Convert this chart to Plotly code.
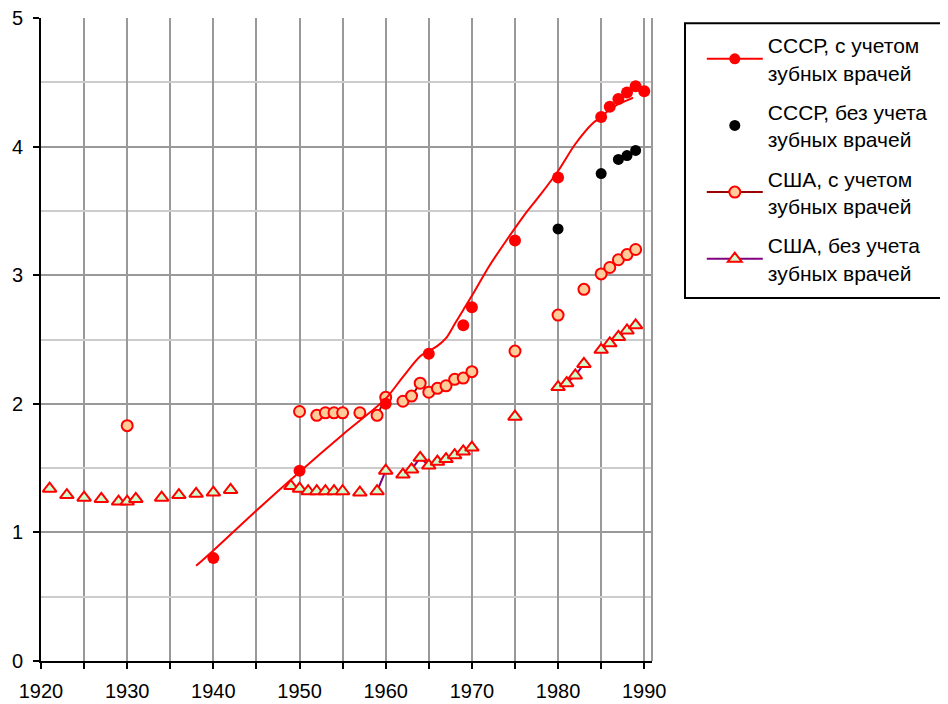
"""Число врачей на 1000 жителей: СССР и США, 1920-1990."""
import plotly.graph_objects as go

# СССР, с учетом зубных врачей (точки)
ussr_years = [1940, 1950, 1960, 1965, 1969, 1970, 1975, 1980, 1985, 1986, 1987, 1988, 1989, 1990]
ussr_values = [0.80, 1.48, 2.00, 2.39, 2.61, 2.75, 3.27, 3.76, 4.23, 4.31, 4.37, 4.42, 4.47, 4.43]

# СССР, сглаженная линия
ussr_line_years = [1938, 1940, 1945, 1950, 1955, 1960, 1962, 1964, 1965, 1966, 1967, 1968,
                   1969, 1970, 1972, 1974, 1976, 1978, 1980, 1982, 1984, 1985, 1986, 1987,
                   1988, 1988.7]
ussr_line_values = [0.74, 0.86, 1.17, 1.47, 1.76, 2.04, 2.21, 2.37, 2.41, 2.45, 2.51, 2.62,
                    2.73, 2.84, 3.07, 3.27, 3.46, 3.63, 3.81, 4.02, 4.18, 4.23, 4.29, 4.33,
                    4.36, 4.38]

# СССР, без учета зубных врачей
ussr_nodent_years = [1980, 1985, 1987, 1988, 1989]
ussr_nodent_values = [3.36, 3.79, 3.90, 3.93, 3.97]

# США, с учетом зубных врачей
usa_years = [1930, 1950, 1952, 1953, 1954, 1955, 1957, 1959, 1960, 1962, 1963, 1964, 1965,
             1966, 1967, 1968, 1969, 1970, 1975, 1980, 1983, 1985, 1986, 1987, 1988, 1989]
usa_values = [1.83, 1.94, 1.91, 1.93, 1.93, 1.93, 1.93, 1.91, 2.05, 2.02, 2.06, 2.16, 2.09,
              2.12, 2.14, 2.19, 2.20, 2.25, 2.41, 2.69, 2.89, 3.01, 3.06, 3.12, 3.16, 3.20]

# США, без учета зубных врачей
usa_nodent_years = [1921, 1923, 1925, 1927, 1929, 1930, 1931, 1934, 1936, 1938, 1940, 1942,
                    1949, 1950, 1951, 1952, 1953, 1954, 1955, 1957, 1959, 1960, 1962, 1963,
                    1964, 1965, 1966, 1967, 1968, 1969, 1970, 1975, 1980, 1981, 1982, 1983,
                    1985, 1986, 1987, 1988, 1989]
usa_nodent_values = [1.34, 1.29, 1.27, 1.26, 1.24, 1.24, 1.26, 1.27, 1.29, 1.30, 1.31, 1.33,
                     1.36, 1.34, 1.32, 1.32, 1.32, 1.32, 1.32, 1.31, 1.32, 1.48, 1.45, 1.49,
                     1.58, 1.52, 1.55, 1.57, 1.60, 1.63, 1.66, 1.90, 2.13, 2.16, 2.22, 2.31,
                     2.42, 2.47, 2.52, 2.57, 2.61]

x_ticks = [1920, 1930, 1940, 1950, 1960, 1970, 1980, 1990]

FONT = "Liberation Sans, Arial, sans-serif"
LABEL_TAIL = "<br>зубных врачей"


def with_gaps(years, values):
    """Excel-style line: only consecutive years are joined."""
    xs, ys = [], []
    for i, (yr, v) in enumerate(zip(years, values)):
        if i and yr - years[i - 1] > 1:
            xs.append(None)
            ys.append(None)
        xs.append(yr)
        ys.append(v)
    return xs, ys


fig = go.Figure()

usa_nd_x, usa_nd_y = with_gaps(usa_nodent_years, usa_nodent_values)
fig.add_trace(go.Scatter(
    x=usa_nd_x, y=usa_nd_y, mode="lines+markers",
    name="США, без учета" + LABEL_TAIL, legendrank=4, legendgroup="g4",
    line={"color": "#800080", "width": 2},
    marker={"symbol": "triangle-up", "size": 12, "color": "#ccffcc",
            "line": {"color": "#ff0000", "width": 2}},
))

usa_x, usa_y = with_gaps(usa_years, usa_values)
fig.add_trace(go.Scatter(
    x=usa_x, y=usa_y, mode="lines+markers",
    name="США, с учетом" + LABEL_TAIL, legendrank=3, legendgroup="g3",
    line={"color": "#990000", "width": 2},
    marker={"symbol": "circle", "size": 11, "color": "#ffcc99",
            "line": {"color": "#ff0000", "width": 2}},
))

fig.add_trace(go.Scatter(
    x=ussr_nodent_years, y=ussr_nodent_values, mode="markers",
    name="СССР, без учета" + LABEL_TAIL, legendrank=2, legendgroup="g2",
    marker={"symbol": "circle", "size": 11, "color": "black"},
))

fig.add_trace(go.Scatter(
    x=ussr_line_years, y=ussr_line_values, mode="lines",
    line={"color": "#ff0000", "width": 2, "shape": "spline", "smoothing": 0.8},
    legendgroup="g1", showlegend=False,
))

fig.add_trace(go.Scatter(
    x=ussr_years, y=ussr_values, mode="markers",
    marker={"symbol": "circle", "size": 12, "color": "#ff0000"},
    legendgroup="g1", showlegend=False,
))

# legend-only entry: line with marker
fig.add_trace(go.Scatter(
    x=[None], y=[None], mode="lines+markers",
    name="СССР, с учетом" + LABEL_TAIL, legendrank=1, legendgroup="g1",
    line={"color": "#ff0000", "width": 2},
    marker={"symbol": "circle", "size": 11, "color": "#ff0000"},
))

# page body has an 8px margin, so the figure is 8px smaller than the window
fig.update_layout(
    width=940,
    height=696,
    margin={"l": 33, "r": 296, "t": 10, "b": 43},
    paper_bgcolor="white",
    plot_bgcolor="white",
    font={"family": FONT, "size": 20, "color": "black"},
    showlegend=True,
    legend={
        "x": 1.0815, "y": 0.989, "xanchor": "left", "yanchor": "top",
        "borderwidth": 0, "bgcolor": "rgba(0,0,0,0)",
        "font": {"family": FONT, "size": 21, "color": "black"},
        "tracegroupgap": 9,
        "itemwidth": 56,
        "traceorder": "grouped",
    },
)

fig.update_xaxes(
    range=[1920, 1990.9],
    tickvals=x_ticks,
    automargin=False,
    showgrid=True, gridcolor="#999999", gridwidth=2,
    minor={"dtick": 5, "tick0": 1920, "showgrid": True, "gridcolor": "#999999",
           "gridwidth": 2, "ticks": "outside", "ticklen": 6, "tickcolor": "black",
           "tickwidth": 2},
    ticks="outside", ticklen=6, tickwidth=2, tickcolor="black",
    ticklabelstandoff=5,
    ticklabeloverflow="allow",
    showline=True, linecolor="black", linewidth=2,
    zeroline=False,
    tickfont={"size": 20},
)

fig.update_yaxes(
    range=[0, 5],
    dtick=1,
    automargin=False,
    showgrid=True, gridcolor="#999999", gridwidth=2,
    minor={"dtick": 0.5, "showgrid": True, "gridcolor": "#cccccc", "gridwidth": 2},
    ticks="outside", ticklen=6, tickwidth=2, tickcolor="black",
    ticklabelstandoff=6,
    ticklabeloverflow="allow",
    showline=True, linecolor="black", linewidth=2,
    zeroline=False,
    tickfont={"size": 20},
)

# grey frame on the right like the source
fig.add_shape(type="line", xref="paper", yref="paper", x0=1, x1=1, y0=0, y1=1,
              line={"color": "#999999", "width": 2})
# legend frame, wider than plotly's own legend box
fig.add_shape(type="rect", xref="paper", yref="paper",
              x0=1.054, x1=1.481, y0=0.5645, y1=0.992,
              line={"color": "black", "width": 2}, fillcolor="rgba(0,0,0,0)")

fig.write_html("out.html")
